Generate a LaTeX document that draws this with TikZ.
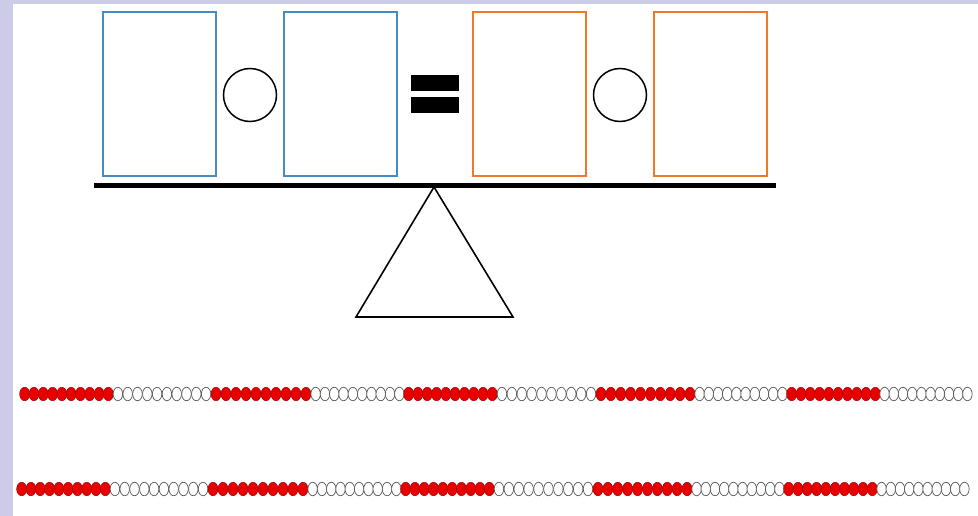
\documentclass[tikz,border=0pt]{standalone}
\usetikzlibrary{shapes.geometric}
\definecolor{frame}{RGB}{204,204,232}
\definecolor{boxblue}{RGB}{70,140,195}
\definecolor{boxorange}{RGB}{240,120,40}
\definecolor{beadred}{RGB}{232,0,0}
\definecolor{beadedge}{RGB}{160,0,0}
\tikzset{
  bluebox/.style={draw=boxblue,line width=2pt,minimum width=113pt,minimum height=164pt,inner sep=0pt},
  orangebox/.style={draw=boxorange,line width=2pt,minimum width=113pt,minimum height=164pt,inner sep=0pt},
  opcircle/.style={circle,draw=black,line width=1.5pt,minimum size=53pt,inner sep=0pt},
  eqbar/.style={fill=black,draw=none,minimum width=48pt,minimum height=16pt,inner sep=0pt},
  redbead/.style={ellipse,fill=beadred,draw=beadedge,line width=0.5pt,minimum width=10pt,minimum height=13.5pt,inner sep=0pt},
  whitebead/.style={ellipse,fill=white,draw=black!65,line width=0.7pt,minimum width=9.5pt,minimum height=13.5pt,inner sep=0pt},
}
\begin{document}
\begin{tikzpicture}[x=1pt,y=-1pt]
\useasboundingbox (0,0) rectangle (978,516);
\fill[white] (0,0) rectangle (978,516);
\fill[frame] (0,0) rectangle (13,516);
\fill[frame] (0,0) rectangle (978,4);
% boxes
\node[bluebox] (b1) at (159.5,94) {};
\node[opcircle] (c1) at (250,95) {};
\node[bluebox] (b2) at (340,94) {};
\node[eqbar] (eq1) at (435,83.5) {};
\node[eqbar] (eq2) at (435,105) {};
\node[orangebox] (o1) at (529.5,94) {};
\node[opcircle] (c2) at (620,95) {};
\node[orangebox] (o2) at (710,94) {};
% seesaw
\coordinate (beamL) at (94,185.5);
\coordinate (beamR) at (776,185.5);
\draw[line width=4.2pt] (beamL) -- (beamR);
\coordinate (apex) at (434,187);
\coordinate (baseL) at (356,317);
\coordinate (baseR) at (513,317);
\draw[line width=1.6pt,line join=miter] (apex) -- (baseR) -- (baseL) -- cycle;
% beads: group boundaries (row 1); row 2 is shifted 3px left and 95px down
\def\bounds{{20,113,211,311,404,497,596,695,787,880,972}}
\foreach \g in {0,...,9}{
  \pgfmathsetmacro{\s}{\bounds[\g]}
  \pgfmathsetmacro{\e}{\bounds[\g+1]}
  \pgfmathsetmacro{\p}{(\e-\s)/10}
  \pgfmathtruncatemacro{\odd}{mod(\g,2)}
  \foreach \k in {0,...,9}{
    \pgfmathsetmacro{\xx}{\s+(\k+0.5)*\p}
    \ifnum\odd=0
      \node[redbead] (ra\g\k) at (\xx,394) {};
      \node[redbead] (rb\g\k) at (\xx-3,489) {};
    \else
      \node[whitebead] (ra\g\k) at (\xx,394) {};
      \node[whitebead] (rb\g\k) at (\xx-3,489) {};
    \fi
  }
}
\end{tikzpicture}
\end{document}
